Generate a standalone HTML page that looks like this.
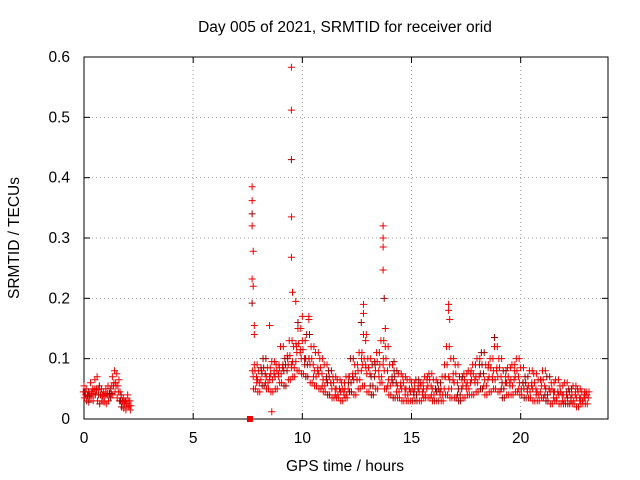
<!DOCTYPE html>
<html><head><meta charset="utf-8"><style>
html,body{margin:0;padding:0;background:#fff;}
svg{display:block;font-family:"Liberation Sans",sans-serif;}
</style></head><body>
<svg id="chart" width="640" height="480">
<rect width="640" height="480" fill="#fff"/>
<text x="345" y="32" font-size="15.5" text-anchor="middle">Day 005 of 2021, SRMTID for receiver orid</text>
<g id="grid"></g>
<g id="axes"></g>
<g id="marks"></g>
<text x="345" y="471" font-size="15.5" text-anchor="middle">GPS time / hours</text>
<text x="19" y="238" font-size="15.5" text-anchor="middle" transform="rotate(-90 19 238)">SRMTID / TECUs</text>
</svg>
<script>
const xTicks = [0,5,10,15,20];
const yTicks = [0,0.1,0.2,0.3,0.4,0.5,0.6];
const yTickLabels = ["0","0.1","0.2","0.3","0.4","0.5","0.6"];
// early segment
const earlyTimes = [0.0,0.1,0.2,0.3,0.4,0.5,0.6,0.7,0.8,0.9,1.0,1.1,1.2,1.3,1.4,1.5,1.6,1.7,1.8,1.9,2.0,2.1];
const earlyHi = [.055,.05,.045,.06,.05,.065,.07,.055,.05,.045,.05,.055,.05,.07,.08,.075,.065,.04,.035,.03,.04,.03];
const earlyMid = [.045,.04,.038,.045,.042,.05,.048,.04,.04,.038,.04,.042,.042,.055,.06,.055,.045,.03,.028,.025,.03,.022];
const earlyLo = [.035,.03,.028,.035,.03,.04,.03,.025,.03,.028,.025,.03,.035,.04,.045,.035,.03,.02,.018,.015,.02,.015];
// main band
const bandTimes = [7.8,8.0,8.2,8.4,8.6,8.8,9.0,9.2,9.4,9.6,9.8,10.0,10.2,10.4,10.6,10.8,11.0,11.2,11.4,11.6,11.8,12.0,12.2,12.4,12.6,12.8,13.0,13.2,13.4,13.6,13.8,14.0,14.2,14.4,14.6,14.8,15.0,15.2,15.4,15.6,15.8,16.0,16.2,16.4,16.6,16.8,17.0,17.2,17.4,17.6,17.8,18.0,18.2,18.4,18.6,18.8,19.0,19.2,19.4,19.6,19.8,20.0,20.2,20.4,20.6,20.8,21.0,21.2,21.4,21.6,21.8,22.0,22.2,22.4,22.6,22.8,23.0];
const bandHi = [.09,.08,.1,.085,.095,.09,.12,.1,.13,.12,.15,.13,.14,.12,.11,.1,.09,.08,.07,.065,.06,.07,.1,.09,.11,.14,.1,.09,.11,.13,.12,.09,.08,.075,.07,.065,.06,.065,.06,.07,.075,.065,.06,.07,.12,.1,.09,.07,.075,.08,.09,.1,.11,.09,.1,.12,.1,.08,.085,.09,.1,.085,.07,.08,.075,.065,.08,.07,.06,.065,.055,.06,.05,.055,.05,.045,.045];
const bandMid = [.07,.065,.075,.07,.075,.07,.085,.08,.09,.095,.11,.1,.1,.09,.08,.075,.065,.06,.05,.05,.045,.05,.07,.065,.08,.09,.075,.07,.08,.09,.08,.065,.06,.055,.05,.05,.045,.05,.045,.05,.055,.05,.045,.05,.07,.065,.06,.05,.055,.06,.065,.07,.075,.065,.07,.08,.07,.06,.06,.065,.07,.06,.05,.055,.05,.045,.055,.05,.045,.045,.04,.04,.035,.04,.035,.035,.035];
const bandLo = [.05,.045,.055,.05,.045,.05,.06,.055,.065,.07,.08,.075,.07,.06,.055,.05,.045,.04,.035,.035,.03,.035,.045,.04,.05,.055,.045,.04,.05,.06,.05,.04,.035,.035,.03,.03,.03,.03,.03,.035,.035,.03,.03,.03,.04,.035,.035,.03,.035,.04,.04,.045,.05,.04,.045,.05,.045,.035,.04,.04,.045,.04,.035,.035,.03,.03,.035,.03,.025,.03,.025,.025,.025,.025,.02,.025,.025];
const bandMid2 = [.08,.06,.085,.06,.065,.08,.075,.09,.105,.085,.125,.115,.09,.1,.07,.085,.055,.07,.06,.04,.05,.04,.06,.075,.065,.1,.085,.055,.095,.07,.1,.055,.07,.045,.06,.04,.05,.04,.055,.04,.065,.04,.05,.04,.09,.05,.075,.04,.065,.05,.075,.06,.09,.055,.085,.065,.085,.05,.07,.055,.08,.05,.06,.045,.06,.04,.065,.04,.05,.035,.045,.03,.045,.03,.045,.03,.04];
// spikes and outliers
const spikeTimes = [7.7,7.7,7.7,7.7,7.75,7.7,7.75,7.7,7.8,7.8,9.5,9.5,9.5,9.5,9.5,9.55,9.7,9.8,10.3,10.3,12.8,12.8,12.7,13.7,13.7,13.7,13.7,13.75,13.8,16.7,16.7,16.75,18.8,8.6,8.5,10.0,12.9,14.2];
const spikeVals = [.385,.362,.34,.32,.278,.232,.22,.192,.155,.14,.583,.512,.43,.335,.268,.21,.195,.16,.17,.165,.19,.175,.16,.32,.3,.285,.247,.2,.15,.19,.18,.165,.135,.012,.155,.17,.13,.095];
const zeroTimes = [7.6];
const zeroVals = [0];

const X0=84, X1=608, Y0=419, Y1=57, XMAX=24, YMAX=0.6;
const xs = v => X0 + (X1-X0)*v/XMAX;
const ys = v => Y0 - (Y0-Y1)*v/YMAX;
const NS="http://www.w3.org/2000/svg";
const grid=document.getElementById('grid'), axes=document.getElementById('axes'), marks=document.getElementById('marks');
function mk(tag, attrs, parent){const e=document.createElementNS(NS,tag);for(const k in attrs)e.setAttribute(k,attrs[k]);parent.appendChild(e);return e;}

yTicks.forEach((v,i)=>{
  const y=ys(v);
  if(i>0&&i<yTicks.length-1){const g=mk('line',{x1:X0,x2:X1,y1:y,y2:y,stroke:'#a0a0a0','stroke-dasharray':'1,3'},grid);
  
  }
  const tl=mk('line',{x1:X0,x2:X0+6,y1:y,y2:y,stroke:'#000'},axes);
  
  
  mk('line',{x1:X1,x2:X1-6,y1:y,y2:y,stroke:'#000'},axes);
  const t=mk('text',{x:X0-14,y:y+5,'font-size':15.5,'text-anchor':'end'},axes);
  t.textContent=yTickLabels[i];
  
  
});
xTicks.forEach(v=>{
  const x=xs(v);
  if(v>0){const g=mk('line',{x1:x,x2:x,y1:Y0,y2:Y1,stroke:'#a0a0a0','stroke-dasharray':'1,3'},grid);
  
  }
  const tl=mk('line',{x1:x,x2:x,y1:Y0,y2:Y0-6,stroke:'#000'},axes);
  
  
  mk('line',{x1:x,x2:x,y1:Y1,y2:Y1+6,stroke:'#000'},axes);
  const t=mk('text',{x:x,y:Y0+24,'font-size':15.5,'text-anchor':'middle'},axes);
  t.textContent=String(v);
  
  
});
const frame=mk('rect',{x:X0,y:Y1,width:X1-X0,height:Y0-Y1,fill:'none',stroke:'#000'},axes);



function plus(t,v,color){
  const x=xs(t), y=ys(v);
  const p=mk('path',{d:`M${x-3.5},${y}h7M${x},${y-3.5}v7`,stroke:color,'stroke-width':1,fill:'none'},marks);
  
  
}
function series(times, vals, offset){
  times.forEach((t,i)=>plus(t+offset, vals[i], i%5===2?'#a00000':'#f00000'));
}
series(earlyTimes, earlyHi, 0);
series(earlyTimes, earlyMid, 0.05);
series(earlyTimes, earlyLo, 0.02);
series(earlyTimes, earlyMid, -0.03);
series(bandTimes, bandHi, 0);
series(bandTimes, bandMid, 0.1);
series(bandTimes, bandLo, 0.05);
series(bandTimes, bandMid, -0.05);
series(bandTimes, bandMid2, 0.03);
series(bandTimes, bandMid2, -0.09);
series(bandTimes, bandLo, -0.04);
series(bandTimes, bandHi, 0.13);
series(spikeTimes, spikeVals, 0);
zeroTimes.forEach((t,i)=>{
  const r=mk('rect',{x:xs(t)-3,y:ys(zeroVals[i])-3,width:6,height:6,fill:'#f00000'},marks);
  
  
});
</script>
</body></html>
